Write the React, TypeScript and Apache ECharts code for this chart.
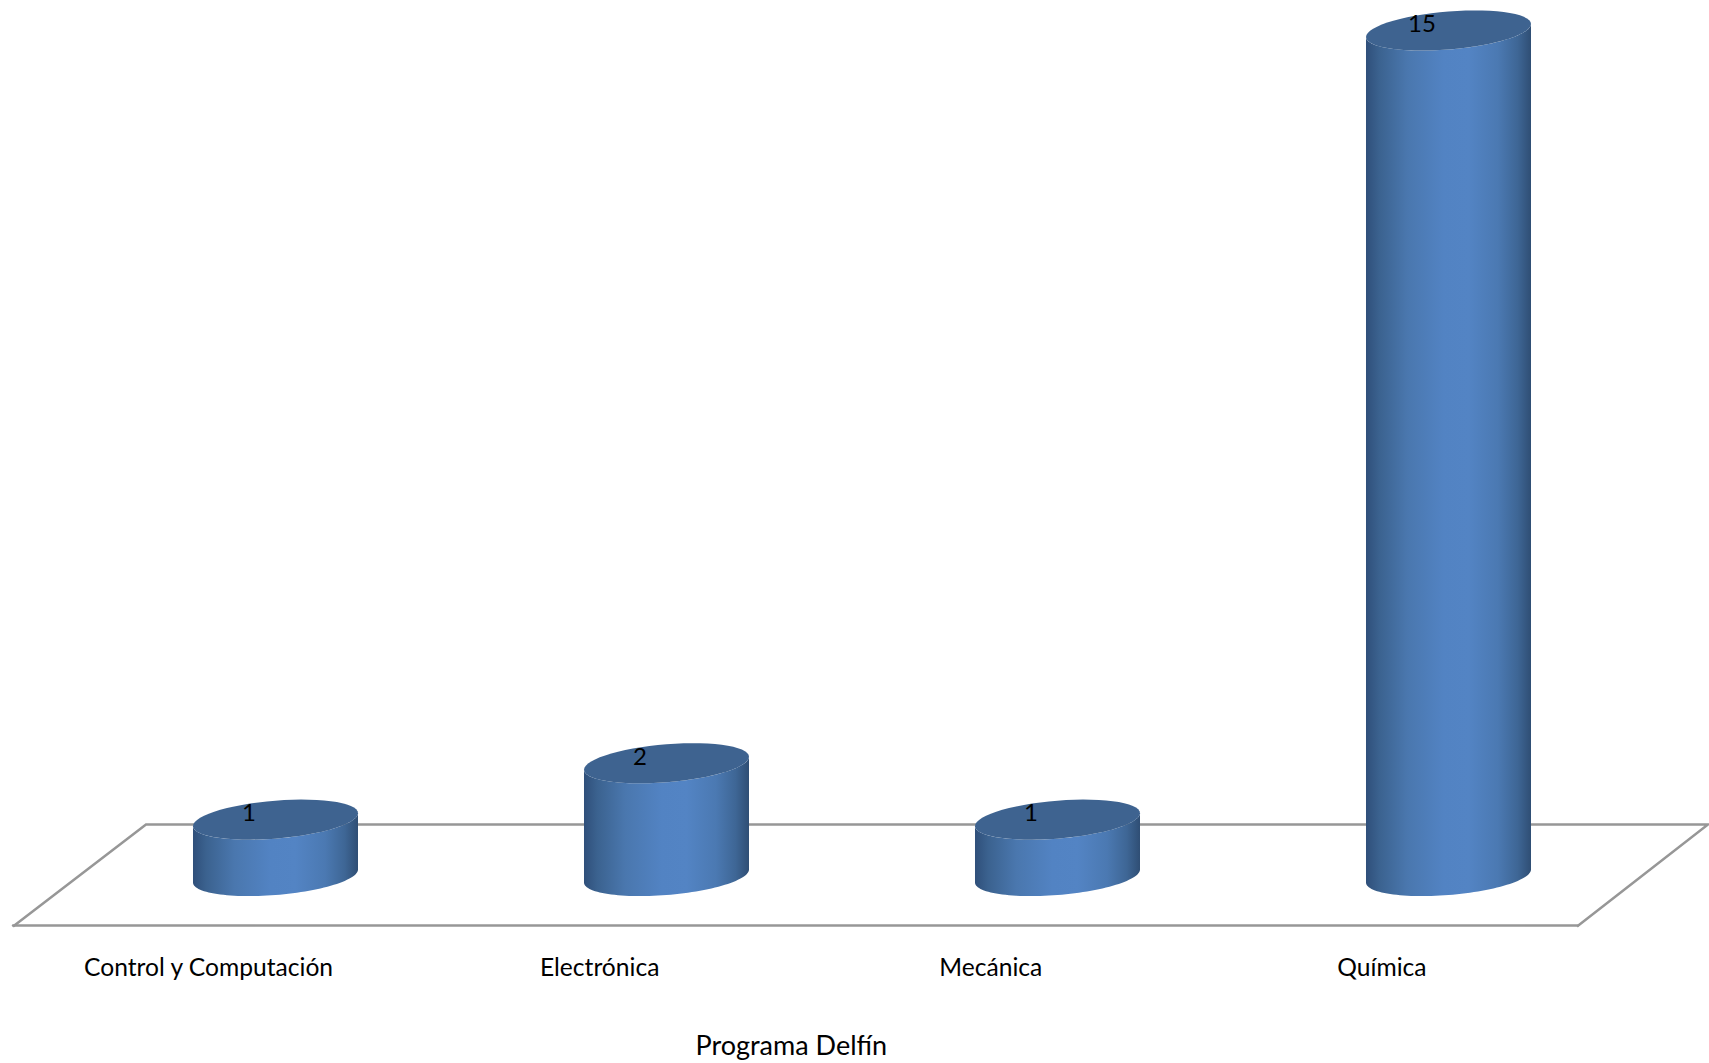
import React, { useEffect, useRef } from "react";
import * as echarts from "echarts";

const categories = ["Control y Computación", "Electrónica", "Mecánica", "Química"];
const values = [1, 2, 1, 15];
const axisTitle = "Programa Delfín";
const yMax = 15;

const FONT = "Lato";
const FLOOR = "#979797";
const TOP_FILL = "#3e6390";
const SIDE_STOPS = [
  { offset: 0, color: "#2f4f7a" },
  { offset: 0.08, color: "#3b628f" },
  { offset: 0.25, color: "#4a77ae" },
  { offset: 0.47, color: "#5283c3" },
  { offset: 0.62, color: "#5384c4" },
  { offset: 0.8, color: "#4b79b2" },
  { offset: 0.92, color: "#3e6695" },
  { offset: 1, color: "#2f4e74" },
];

function ellipsePoints(cx: number, cy: number, a: number, from: number, to: number) {
  const pts: number[][] = [];
  const n = 60;
  for (let i = 0; i <= n; i++) {
    const t = from + ((to - from) * i) / n;
    pts.push([cx + a * Math.cos(t), cy + 19 * Math.sin(t) - 6.5 * Math.cos(t)]);
  }
  return pts;
}

function renderCylinder(_params: any, api: any) {
  const idx = api.value(0);
  const val = api.value(1);
  const [cx, topY] = api.coord([idx, val]);
  const [, baseY] = api.coord([idx, 0]);
  const a = api.size([1, 0])[0] * 0.211;
  const side = [
    ...ellipsePoints(cx, baseY, a, 0, Math.PI),
    ...ellipsePoints(cx, topY, a, Math.PI, 0),
  ];
  return {
    type: "group",
    children: [
      {
        type: "polygon",
        shape: { points: side },
        style: { fill: new echarts.graphic.LinearGradient(0, 0, 1, 0, SIDE_STOPS) },
      },
      {
        type: "polygon",
        shape: { points: ellipsePoints(cx, topY, a, 0, Math.PI * 2) },
        style: { fill: TOP_FILL },
      },
      {
        type: "text",
        style: {
          text: String(val),
          x: cx - 26.5,
          y: topY - 8,
          align: "center",
          verticalAlign: "middle",
          fill: "#000",
          font: `24px ${FONT}`,
        },
      },
    ],
  };
}

export default function App() {
  const ref = useRef<HTMLDivElement>(null);
  useEffect(() => {
    const chart = echarts.init(ref.current!, undefined, { renderer: "svg" });
    chart.setOption({
      animation: false,
      backgroundColor: "#fff",
      textStyle: { fontFamily: FONT },
      grid: [
        { left: 13, right: 131.5, top: 30.5, bottom: 1063 - 926.5 },
        { left: 80, right: 65, top: 30.5, bottom: 1063 - 876 },
      ],
      xAxis: [
        {
          type: "category",
          gridIndex: 0,
          data: categories,
          axisTick: { show: false },
          axisLine: { show: true, lineStyle: { color: FLOOR, width: 2.5 } },
          axisLabel: { color: "#000", fontFamily: FONT, fontSize: 24.6, margin: 28 },
          name: axisTitle,
          nameLocation: "middle",
          nameGap: 105.5,
          nameTextStyle: { color: "#000", fontFamily: FONT, fontSize: 27, padding: [0, 8, 0, 0] },
        },
        { type: "category", gridIndex: 1, data: categories, show: false },
      ],
      yAxis: [
        { type: "value", gridIndex: 0, min: 0, max: yMax, show: false },
        { type: "value", gridIndex: 1, min: 0, max: yMax, show: false },
      ],
      graphic: [
        {
          type: "polyline",
          z: 0,
          shape: { points: [[13, 926.5], [146, 824.5], [1708, 824.5], [1577, 926.5]] },
          style: { fill: "none", stroke: FLOOR, lineWidth: 2.5 },
        },
      ],
      series: [
        {
          type: "custom",
          xAxisIndex: 1,
          yAxisIndex: 1,
          z: 5,
          clip: false,
          renderItem: renderCylinder,
          encode: { x: 0, y: 1 },
          data: values.map((v, i) => [i, v]),
        },
      ],
    });
    return () => chart.dispose();
  }, []);
  return <div ref={ref} style={{ position: "absolute", left: 0, top: 0, width: 1709, height: 1063 }} />;
}
